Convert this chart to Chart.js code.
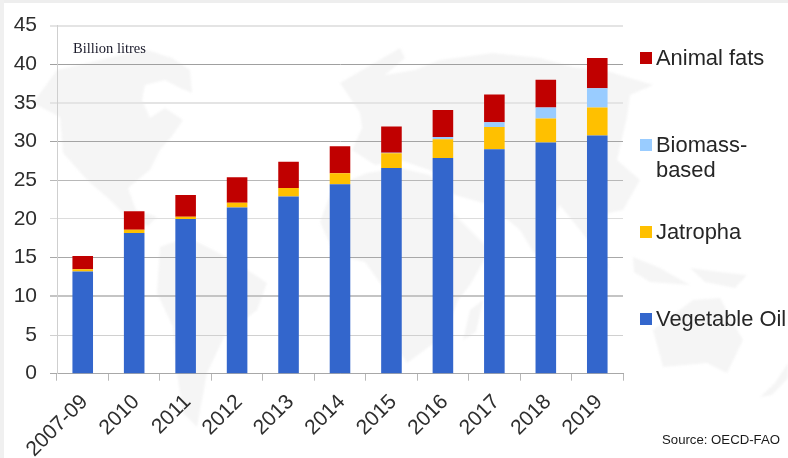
<!DOCTYPE html>
<html>
<head>
<meta charset="utf-8">
<script src="https://cdn.jsdelivr.net/npm/chart.js@4"></script>
<style>
html,body{margin:0;padding:0;background:#fff;width:788px;height:458px;overflow:hidden}
#stage{position:relative;width:788px;height:458px;background:#fff}
#stripT{position:absolute;left:0;top:0;width:788px;height:3px;background:#eeeeee}
#stripL{position:absolute;left:0;top:0;width:4px;height:458px;background:#f0f0f0}
#map{position:absolute;left:0;top:0;filter:blur(0.8px)}
canvas{position:absolute;left:0;top:0}
.t{position:absolute;font-family:"Liberation Sans",Arial,sans-serif;color:#262626;white-space:nowrap}
#note{left:73px;top:40px;font:14.5px/16px "Liberation Serif",serif;color:#1a1a2a;position:absolute}
#source{left:662px;top:432px;font-size:13.2px;line-height:16px;color:#1a1a1a}
.sw{position:absolute;width:12px;height:12px}
.lg{font-size:21.9px;line-height:25px}
</style>
</head>
<body>
<div id="stage">
<svg id="map" width="788" height="458" fill="#f5f5f5">
  <path d="M7,108 L33,103 L57,70 L92,62 L120,55 L147,50 L172,58 L190,70 L192,93 L180,88 L165,80 L145,85 L142,100 L150,118 L165,108 L183,120 L172,136 L160,150 L150,170 L140,178 L128,188 L136,210 L157,217 L148,226 L128,218 L110,200 L87,180 L63,153 L60,117 L33,103 Z"/>
  <path d="M160,247 L187,237 L213,250 L240,265 L267,283 L257,310 L225,335 L207,373 L197,427 L183,413 L177,373 L173,327 L157,293 Z"/>
  <path d="M320,222 L333,187 L367,173 L400,168 L430,175 L455,215 L490,250 L470,285 L458,300 L445,335 L407,363 L392,340 L385,290 L365,262 L335,255 Z"/>
  <path d="M463,340 L470,310 L483,300 L476,332 Z"/>
  <path d="M340,83 L400,48 L405,58 L385,75 L415,70 L440,60 L493,53 L540,58 L573,67 L610,72 L653,85 L630,95 L627,117 L617,160 L640,180 L623,210 L600,215 L590,228 L610,270 L580,230 L560,205 L535,255 L520,230 L490,205 L455,195 L435,172 L400,160 L375,165 L352,150 L362,128 L360,113 Z"/>
  <path d="M633,257 L660,268 L690,285 L650,282 L634,272 Z"/>
  <path d="M690,268 L720,272 L747,275 L735,288 L705,282 Z"/>
  <path d="M653,330 L693,300 L720,298 L743,340 L727,373 L707,363 L663,367 Z"/>
  <path d="M760,397 L775,383 L788,363 L788,378 L772,395 Z"/>
</svg>
<div id="stripT"></div><div id="stripL"></div>
<canvas id="c" width="788" height="458"></canvas>
<div id="note">Billion litres</div>
<div id="legend"></div>
<div id="source" class="t">Source: OECD-FAO</div>
</div>
<script>
const categories = ['2007-09','2010','2011','2012','2013','2014','2015','2016','2017','2018','2019'];
const vegetableOil = [13.2,18.2,20.0,21.5,22.9,24.5,26.6,27.9,29.0,29.9,30.8];
const jatropha     = [0.3,0.4,0.3,0.6,1.1,1.4,1.9,2.4,2.9,3.1,3.6];
const biomassBased = [0,0,0,0,0,0,0.05,0.3,0.6,1.4,2.5];
const animalFats   = [1.7,2.4,2.8,3.3,3.4,3.5,3.4,3.5,3.6,3.6,3.9];
const gridTones  = ['#a8a8a8','#d0d0d0','#c4c4c4','#a8a8a8','#dcdcdc','#b8b8b8','#a4a4a4','#e4e4e4','#a0a0a0','#e4e4e4'];
const gridWidths = [1,1,2,1,1,1,1,2,1,2];

const series = [
  {label:'Vegetable Oil', data:vegetableOil, backgroundColor:'#3366cc'},
  {label:'Jatropha', data:jatropha, backgroundColor:'#ffc000'},
  {label:'Biomass-based', data:biomassBased, backgroundColor:'#99ccff'},
  {label:'Animal fats', data:animalFats, backgroundColor:'#c00000'}
];

new Chart(document.getElementById('c'), {
  type:'bar',
  data:{labels:categories, datasets:series.map(s=>({...s, categoryPercentage:1, barPercentage:0.4, borderWidth:0}))},
  options:{
    responsive:false, animation:false, events:[],
    layout:{padding:{top:25,right:165,left:0,bottom:0}},
    plugins:{legend:{display:false},title:{display:false},tooltip:{enabled:false}},
    scales:{
      x:{
        stacked:true,
        afterFit(s){s.height=84.3;},
        grid:{drawOnChartArea:false,drawTicks:true,tickLength:7,color:'#b8b8b8',lineWidth:1},
        border:{color:'#a8a8a8'},
        ticks:{maxRotation:45,minRotation:45,autoSkip:false,padding:9,labelOffset:2,color:'#2e2e2e',
          font:{family:'"Liberation Sans",Arial,sans-serif',size:21}}
      },
      y:{
        stacked:true,min:0,max:45,
        afterFit(s){s.width=57;},
        grid:{color:c=>gridTones[c.index],lineWidth:c=>gridWidths[c.index],tickLength:7},
        border:{color:'#cfcfcf'},
        ticks:{stepSize:5,padding:13,color:'#2e2e2e',
          font:{family:'"Liberation Sans",Arial,sans-serif',size:21}}
      }
    }
  }
});

const legendItems = [
  {label:['Animal fats'],color:'#c00000',sy:52},
  {label:['Biomass-','based'],color:'#99ccff',sy:139},
  {label:['Jatropha'],color:'#ffc000',sy:226},
  {label:['Vegetable Oil'],color:'#3366cc',sy:313}
];
const lg=document.getElementById('legend');
legendItems.forEach(it=>{
  const s=document.createElement('div');s.className='sw';
  s.style.cssText=`left:640px;top:${it.sy}px;background:${it.color}`;lg.appendChild(s);
  it.label.forEach((txt,i)=>{
    const d=document.createElement('div');d.className='t lg';
    d.style.left='656px';d.style.top=(it.sy-7+i*25)+'px';d.textContent=txt;lg.appendChild(d);
  });
});
</script>
</body>
</html>
